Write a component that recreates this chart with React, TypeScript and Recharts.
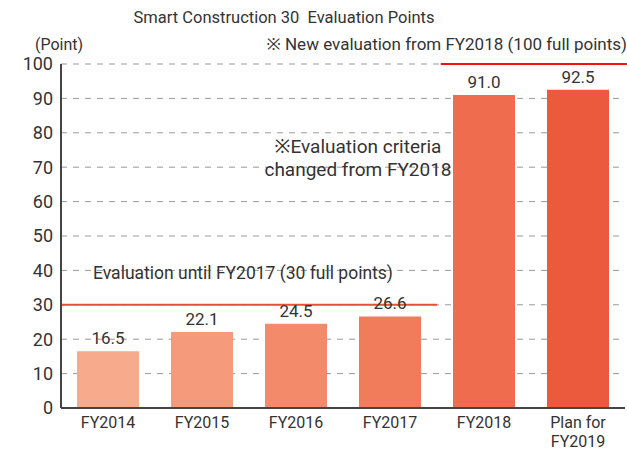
import { BarChart, Bar, XAxis, YAxis, CartesianGrid, Cell, LabelList, ReferenceLine } from "recharts";

const years = ["FY2014", "FY2015", "FY2016", "FY2017", "FY2018", "Plan for\nFY2019"];
const points = [16.5, 22.1, 24.5, 26.6, 91.0, 92.5];
const barColors = ["#f8aa8c", "#f59b7b", "#f38b6b", "#f17c5c", "#ef6c4e", "#ec5a3d"];
const yTicks = [0, 10, 20, 30, 40, 50, 60, 70, 80, 90, 100];

// slot = bar centre on a 0..6 numeric scale, used to place the full-points lines
const data = years.map((year, i) => ({ year, points: points[i], slot: i + 0.5 }));

const FONT = 'Roboto, "Noto Sans", sans-serif';

function YearTick({ x, y, payload }: any) {
  const lines = String(payload.value).split("\n");
  return (
    <text x={x} y={y + 12} textAnchor="middle" fontSize={16} fontFamily={FONT} fill="#333">
      {lines.map((l, i) => (
        <tspan key={i} x={x} dy={i === 0 ? 0 : 19}>{l}</tspan>
      ))}
    </text>
  );
}

export default function App() {
  return (
    <div style={{ position: "absolute", left: 0, top: 0, width: 627, height: 449, background: "#fff", fontFamily: FONT }}>
      <BarChart width={627} height={449} data={data} margin={{ top: 64, right: 2, bottom: 0, left: 0 }}>
        <CartesianGrid stroke="#999" strokeDasharray="6 6" vertical={false} />
        <XAxis dataKey="year" height={41} tick={<YearTick />} tickLine={false} axisLine={{ stroke: "#444", strokeWidth: 2 }} interval={0} />
        <XAxis xAxisId="n" dataKey="slot" type="number" domain={[0, 6]} allowDataOverflow hide height={0} />
        <YAxis domain={[0, 100]} ticks={yTicks} width={61} tickLine={false} axisLine={{ stroke: "#444", strokeWidth: 2 }}
          tick={{ fontSize: 18, fill: "#333", fontFamily: FONT }} />
        <ReferenceLine xAxisId="n" segment={[{ x: 0, y: 30 }, { x: 4, y: 30 }]} stroke="#e8503a" strokeWidth={2} ifOverflow="visible" />
        <ReferenceLine xAxisId="n" segment={[{ x: 4.04, y: 100 }, { x: 6.02, y: 100 }]} stroke="#f01010" strokeWidth={2} ifOverflow="visible" />
        <Bar dataKey="points" barSize={62} isAnimationActive={false}>
          {data.map((d, i) => <Cell key={d.year} fill={barColors[i]} />)}
          <LabelList dataKey="points" position="top" offset={7} formatter={(v: number) => v.toFixed(1)}
            style={{ fontSize: 17, fill: "#333", fontFamily: FONT }} />
        </Bar>
      </BarChart>
      <svg width={627} height={449} style={{ position: "absolute", left: 0, top: 0, pointerEvents: "none" }}>
        <g fontFamily={FONT} fill="#333">
          <text x={284} y={23} textAnchor="middle" fontSize={16.5}>Smart Construction 30{"\u00a0\u00a0"}Evaluation Points</text>
          <text x={35} y={50} fontSize={16}>(Point)</text>
          <text x={627} y={50} textAnchor="end" fontSize={17}>※ New evaluation from FY2018 (100 full points)</text>
          <text x={358} y={153} textAnchor="middle" fontSize={19}>※Evaluation criteria</text>
          <text x={358} y={176} textAnchor="middle" fontSize={19}>changed from FY2018</text>
          <text x={243} y={279} textAnchor="middle" fontSize={17.5}>Evaluation until FY2017 (30 full points)</text>
        </g>
      </svg>
    </div>
  );
}
